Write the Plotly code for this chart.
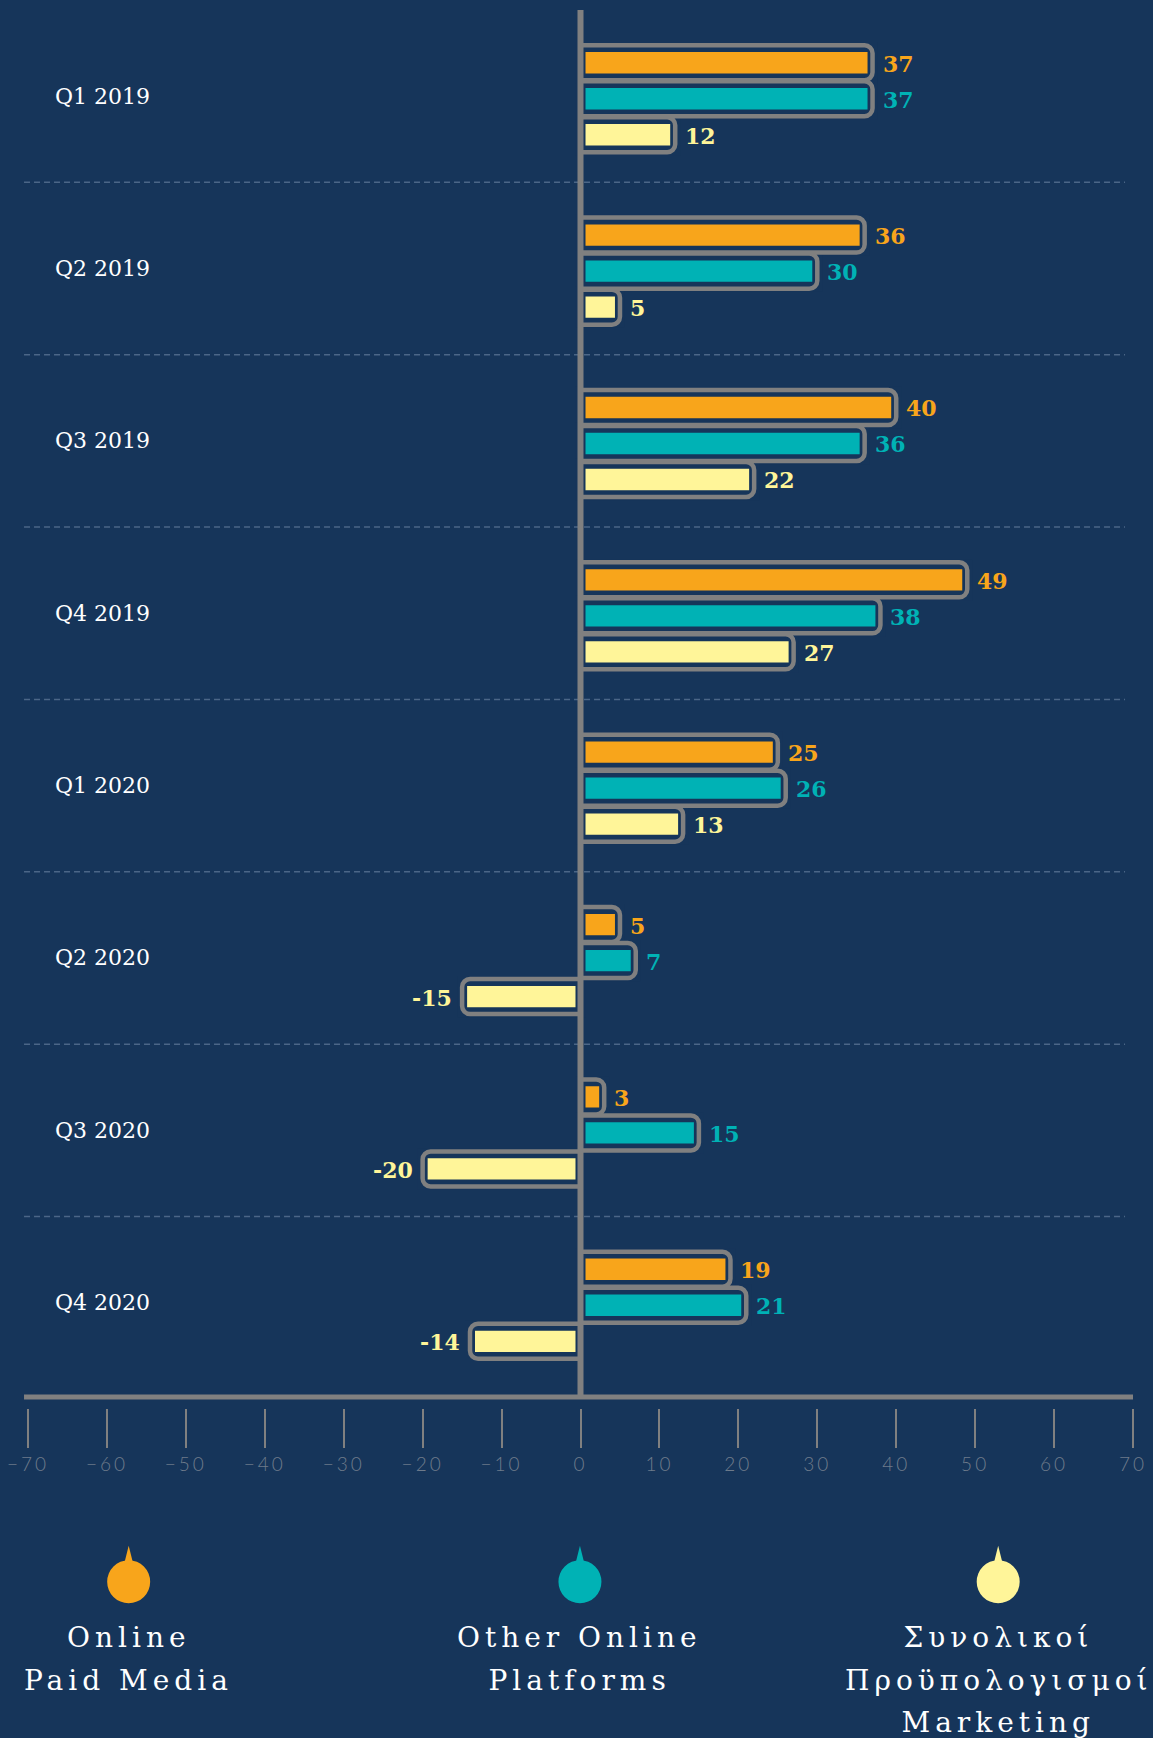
import plotly.graph_objects as go

# ---------------- data ----------------
categories = ["Q1 2019", "Q2 2019", "Q3 2019", "Q4 2019",
              "Q1 2020", "Q2 2020", "Q3 2020", "Q4 2020"]
online_paid_media = [37, 36, 40, 49, 25, 5, 3, 19]
other_online_platforms = [37, 30, 36, 38, 26, 7, 15, 21]
total_marketing_budgets = [12, 5, 22, 27, 13, -15, -20, -14]
series_names = ["Online<br>Paid Media",
                "Other Online<br>Platforms",
                "Συνολικοί<br>Προϋπολογισμοί<br>Marketing"]
x_tick_values = [-70, -60, -50, -40, -30, -20, -10, 0, 10, 20, 30, 40, 50, 60, 70]

# ---------------- style ----------------
BG = "#16355a"
GRAY = "#808080"
COLORS = ["#F8A51B", "#00B2B5", "#FFF599"]
W, H = 1153, 1738
M_L, M_R, M_T, M_B = 28, 20, 10, 330
PLOT_H = H - M_T - M_B
Y_RANGE = [7.611, -0.5]
PX_PER_CAT = PLOT_H / (Y_RANGE[0] - Y_RANGE[1])
PITCH = 0.2089
DY = 0.015
OUT_W = 0.2031
FILL_W = 0.1816
AXIS_Y = 11 / PLOT_H
LABEL_GAP = 8


def py(px):
    """pixel row in the figure -> paper y"""
    return (H - M_B - px) / PLOT_H


series = [online_paid_media, other_online_platforms, total_marketing_budgets]
centers = [(i - 1) * PITCH + DY for i in range(len(series))]

fig = go.Figure()

# filled inner bars
for i, vals in enumerate(series):
    fig.add_trace(go.Bar(
        y=categories, x=vals, orientation="h",
        width=FILL_W, offset=centers[i] - FILL_W / 2,
        marker=dict(color=COLORS[i], line=dict(color=BG, width=10)),
        hoverinfo="skip", showlegend=False,
    ))

# rounded outline boxes
for i, vals in enumerate(series):
    fig.add_trace(go.Bar(
        y=categories, x=vals, orientation="h",
        width=OUT_W, offset=centers[i] - OUT_W / 2,
        marker=dict(color="rgba(0,0,0,0)", line=dict(color=GRAY, width=4.5),
                    cornerradius=8),
        hoverinfo="skip", showlegend=False,
    ))

shapes = []
# dashed separators between categories
for k in range(len(categories) - 1):
    shapes.append(dict(type="line", xref="paper", yref="y",
                       x0=-0.0036, x1=0.9928, y0=k + 0.5, y1=k + 0.5,
                       line=dict(color="#4b6687", width=1.5, dash="6px,4px"),
                       layer="below"))
# zero line
shapes.append(dict(type="line", xref="x", yref="paper", x0=0, x1=0,
                   y0=AXIS_Y, y1=1.0, line=dict(color=GRAY, width=6), layer="above"))
# horizontal axis line
shapes.append(dict(type="line", xref="paper", yref="paper", x0=-0.0036, x1=1.0,
                   y0=AXIS_Y, y1=AXIS_Y, line=dict(color=GRAY, width=5), layer="above"))

annotations = []
# category labels
for cat in categories:
    annotations.append(dict(xref="paper", yref="y", x=0.0229, y=cat,
                            xanchor="left", yanchor="middle", showarrow=False,
                            text=cat,
                            font=dict(family="DejaVu Serif", size=22, color="white")))

# value labels next to each bar
for i, vals in enumerate(series):
    for cat, v in zip(categories, vals):
        annotations.append(dict(
            xref="x", yref="y", x=v, y=cat,
            xanchor="left" if v >= 0 else "right", yanchor="middle",
            xshift=LABEL_GAP if v >= 0 else -LABEL_GAP,
            yshift=-centers[i] * PX_PER_CAT - 1,
            showarrow=False, text=str(v),
            font=dict(family="DejaVu Serif", size=22, color=COLORS[i], weight="bold")))

# custom legend
legend_x = [0.0911, 0.4995, 0.878]
icon_y = py(1581.7)
line_rows = [1637, 1680, 1722]
for i, name in enumerate(series_names):
    shapes.append(dict(type="circle", xref="paper", yref="paper",
                       xsizemode="pixel", ysizemode="pixel",
                       xanchor=legend_x[i], yanchor=icon_y,
                       x0=-21.5, x1=21.5, y0=-21.5, y1=21.5,
                       fillcolor=COLORS[i], line=dict(width=0)))
    shapes.append(dict(type="path", xref="paper", yref="paper",
                       xsizemode="pixel", ysizemode="pixel",
                       xanchor=legend_x[i], yanchor=icon_y,
                       path="M -4.5 18 L 0 36 L 4.5 18 Z",
                       fillcolor=COLORS[i], line=dict(width=0)))
    for j, part in enumerate(name.split("<br>")):
        annotations.append(dict(xref="paper", yref="paper", x=legend_x[i],
                                y=py(line_rows[j]),
                                xanchor="center", yanchor="middle", showarrow=False,
                                text=part, align="center",
                                font=dict(family="DejaVu Serif", size=28, color="white")))

fig.update_layout(
    width=W, height=H,
    margin=dict(l=M_L, r=M_R, t=M_T, b=M_B),
    paper_bgcolor=BG, plot_bgcolor=BG,
    barmode="overlay",
    showlegend=False,
    shapes=shapes,
    annotations=annotations,
    xaxis=dict(range=[-70, 70], tickvals=x_tick_values, ticks="outside",
               ticklen=39, tickwidth=1.5, tickcolor=GRAY,
               showgrid=False, zeroline=False, showline=False,
               tickfont=dict(family="Lato", size=19, color="#6e7b8b", weight=300)),
    yaxis=dict(type="category", categoryorder="array", categoryarray=categories,
               range=Y_RANGE, showgrid=False, zeroline=False, showline=False,
               ticks="", showticklabels=False),
)

post = """
document.body.style.margin='0';
document.body.style.padding='0';
document.body.style.background='%s';
var gd = document.getElementById('{plot_id}');
gd.querySelectorAll('.annotation-text').forEach(function(t){
  if (/^[A-Za-z\\u0370-\\u03ff ]+$/.test(t.textContent) && !/^Q\\d/.test(t.textContent)) {
    t.style.letterSpacing='5px';
  }
});
gd.querySelectorAll('.xtick text').forEach(function(t){ t.style.letterSpacing='3px'; });
""" % BG

fig.write_html("out.html", post_script=post, config={"displayModeBar": False})
